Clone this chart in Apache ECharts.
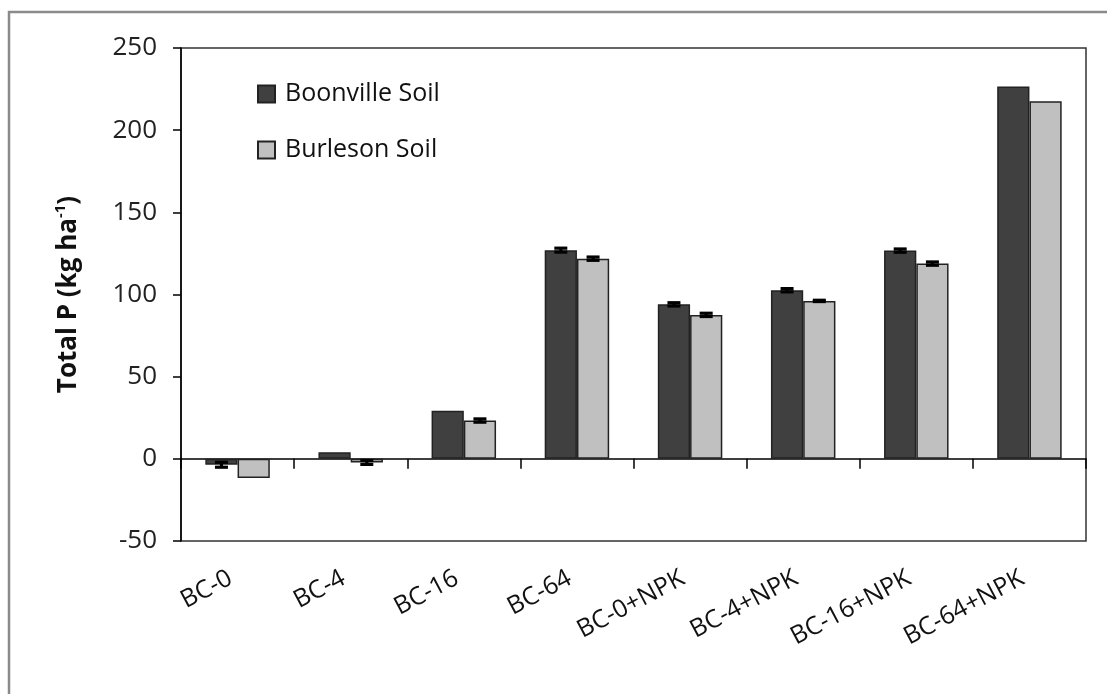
<!DOCTYPE html>
<html>
<head>
<meta charset="utf-8">
<script src="https://cdn.jsdelivr.net/npm/echarts@6/dist/echarts.min.js"></script>
<style>
html,body{margin:0;padding:0;background:#fff;}
#chart{width:1107px;height:694px;}
</style>
</head>
<body>
<div id="chart"></div>
<script>
const categories = ['BC-0','BC-4','BC-16','BC-64','BC-0+NPK','BC-4+NPK','BC-16+NPK','BC-64+NPK'];
const boonville = [-3.6, 4, 29.2, 127, 94, 102.6, 126.7, 226.5];
const burleson = [-11.6, -2.2, 23.3, 121.8, 87.6, 96.1, 118.8, 217.6];
const boonvilleErr = [1.5, 0, 0, 1.2, 1, 1, 1, 0];
const burlesonErr = [0, 1.2, 1, 1, 1, 0.4, 1, 0];
const yTicks = { min: -50, max: 250, interval: 50 };

const FONT = 'Open Sans';
const GAP = 0.43;

function errRenderer(sign) {
  return function (params, api) {
    const i = api.value(0), v = api.value(1), e = api.value(2);
    if (!e) return null;
    const band = api.size([1, 0])[0];
    const barW = band * (1 - GAP) / 2;
    const x = api.coord([i, v])[0] + sign * barW / 2;
    const yT = api.coord([i, v + e])[1];
    const yB = api.coord([i, v - e])[1];
    const hw = 6.5;
    const st = { stroke: '#000', lineWidth: 3.2 };
    return {
      type: 'group',
      children: [
        { type: 'line', shape: { x1: x, y1: yT, x2: x, y2: yB }, style: st },
        { type: 'line', shape: { x1: x - hw, y1: yT, x2: x + hw, y2: yT }, style: st },
        { type: 'line', shape: { x1: x - hw, y1: yB, x2: x + hw, y2: yB }, style: st }
      ]
    };
  };
}

const chart = echarts.init(document.getElementById('chart'));
chart.setOption({
  animation: false,
  backgroundColor: '#fff',
  textStyle: { fontFamily: FONT },
  graphic: [{
    type: 'rect', silent: true,
    shape: { x: 9, y: 12, width: 1200, height: 800 },
    style: { fill: 'none', stroke: '#8a8a8a', lineWidth: 2.5 }
  }],
  grid: {
    left: 181, right: 21, top: 48, bottom: 153,
    show: true, borderColor: '#333', borderWidth: 1.5, backgroundColor: 'transparent'
  },
  legend: {
    orient: 'vertical', left: 252, top: 74,
    itemWidth: 17, itemHeight: 17, itemGap: 26,
    icon: 'rect',
    textStyle: { fontFamily: FONT, fontSize: 25, color: '#111', lineHeight: 30, padding: [0, 0, 0, 5] },
    data: ['Boonville Soil', 'Burleson Soil']
  },
  xAxis: [{
    type: 'category', data: categories, position: 'bottom',
    axisLine: { show: false, onZero: false }, axisTick: { show: false },
    axisLabel: {
      rotate: 28, margin: 32, fontFamily: FONT, fontSize: 25, color: '#111',
      padding: [0, 8, 0, 0]
    }
  }, {
    type: 'category', data: categories, position: 'bottom',
    axisLine: { show: true, onZero: true, lineStyle: { color: '#000', width: 1.5 } },
    axisTick: { show: true, length: 10, lineStyle: { color: '#000', width: 1.5 } },
    axisLabel: { show: false }
  }],
  yAxis: {
    type: 'value', min: yTicks.min, max: yTicks.max, interval: yTicks.interval,
    splitLine: { show: false },
    axisLine: { show: true, lineStyle: { color: '#000', width: 1.5 } },
    axisTick: { show: true, length: 8, lineStyle: { color: '#000', width: 1.5 } },
    axisLabel: { fontFamily: FONT, fontSize: 26, color: '#222', margin: 24 },
    name: '{b|Total P (kg ha}{s|-1}{b|)}',
    nameLocation: 'middle', nameRotate: 90, nameGap: 96,
    nameTextStyle: {
      rich: {
        b: { fontFamily: FONT, fontSize: 26, fontWeight: 'bold', color: '#111', lineHeight: 32 },
        s: { fontFamily: FONT, fontSize: 15, fontWeight: 'bold', color: '#111', verticalAlign: 'top', lineHeight: 18 }
      }
    }
  },
  series: [{
    name: 'Boonville Soil', type: 'bar', xAxisIndex: 0, data: boonville,
    barGap: '0%', barCategoryGap: (GAP * 100) + '%',
    itemStyle: { color: '#404040', borderColor: '#222', borderWidth: 1.5 }
  }, {
    name: 'Burleson Soil', type: 'bar', xAxisIndex: 0, data: burleson,
    barGap: '0%', barCategoryGap: (GAP * 100) + '%',
    itemStyle: { color: '#c0c0c0', borderColor: '#222', borderWidth: 1.5 }
  }, {
    type: 'custom', xAxisIndex: 0, z: 10, silent: true,
    renderItem: errRenderer(-1),
    data: categories.map((c, i) => [i, boonville[i], boonvilleErr[i]])
  }, {
    type: 'custom', xAxisIndex: 0, z: 10, silent: true,
    renderItem: errRenderer(1),
    data: categories.map((c, i) => [i, burleson[i], burlesonErr[i]])
  }]
});
</script>
</body>
</html>
